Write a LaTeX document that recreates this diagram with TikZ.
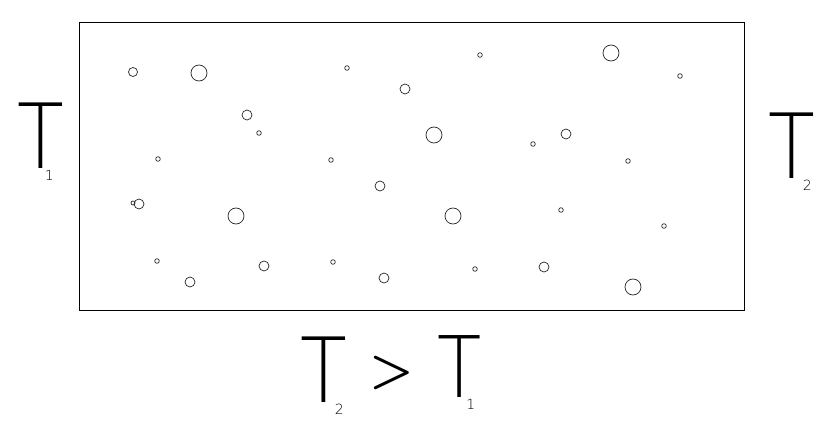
\documentclass[tikz,border=0pt]{standalone}
\usepackage{fontspec}
\newfontfamily\handfont{DejaVu Sans ExtraLight}
\usetikzlibrary{positioning}

\tikzset{
  vessel/.style={draw, line width=0.9pt},
  bubble/.style={draw, line width=0.7pt, black!85},
  templabel/.style={inner sep=0pt, anchor=base west, font=\handfont\fontsize{#1}{#1}\selectfont},
}
% narrow letter T, then a small index tucked under its bar
\newcommand{\tletter}{\scalebox{0.85}[1]{T}}
\newcommand{\tsub}[2]{\kern-#1pt\raisebox{-12pt}{\fontsize{14}{14}\selectfont #2}}

\begin{document}
\begin{tikzpicture}[x=1pt, y=-1pt]
\useasboundingbox (0,0) rectangle (831,433);
% -- the vessel --
\draw[vessel] (79,22) rectangle (744,310);
% -- the bubbles: x/y/radius --
\foreach \x/\y/\r in {133/72/4.5, 199/73/8, 247/115/5, 259/133/2.3, 158/159/2.3,
  347/68/2.3, 405/89/5, 434/135/8, 480/55/2.3, 611/53/8, 680/76/2.3,
  566/134/5, 533/144/2.3, 628/161/2.3, 331/160/2.3, 380/186/5,
  133/203/2, 139/204/5, 236/216/8, 453/216/8, 561/210/2.3, 664/226/2.3,
  157/261/2.3, 190/282/5, 264/266/5, 333/262/2.3, 384/278/5,
  475/269/2.3, 544/267/5, 633/287/8}
  \draw[bubble] (\x,\y) circle[radius=\r];
% -- temperatures --
\node[templabel=90] (tone) at (17,169) {\tletter\tsub{19}{1}};
\node[templabel=90] (ttwo) at (768,179) {\tletter\tsub{12}{2}};
\node[templabel=90] (ttwob) at (300,402) {\tletter\tsub{12}{2}};
\node[inner sep=0pt, font=\bfseries\fontsize{50}{50}\selectfont] (gt) at (392,373) {>};
\node[templabel=85] (toneb) at (437,397) {\tletter\tsub{15}{1}};
\end{tikzpicture}
\end{document}
